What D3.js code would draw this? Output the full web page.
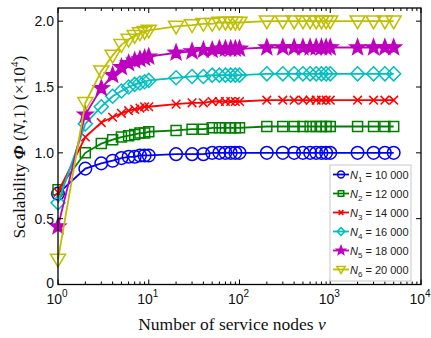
<!DOCTYPE html>
<html>
<head>
<meta charset="utf-8">
<script src="https://cdn.jsdelivr.net/npm/d3@7"></script>
<style>
  body { margin: 0; background: #fff; }
  svg { display: block; }
  .tick-lbl { font-family: "Liberation Sans", Arial, sans-serif; font-size: 14px; fill: #111; }
  .ax-title { font-family: "Liberation Serif", "Times New Roman", serif; font-size: 17.5px; fill: #111; }
  .leg-txt { font-family: "Liberation Sans", Arial, sans-serif; font-size: 11px; fill: #222; }
</style>
</head>
<body>
<div id="chart"></div>
<script>
// numero de nodos de servicio (eje x)
const nodes = [1, 2, 3, 4, 5, 6, 7, 8, 9, 10,
  20, 30, 40, 50, 60, 70, 80, 90, 100,
  200, 300, 400, 500, 600, 700, 800, 900, 1000,
  2000, 3000, 4000, 5000];

// valores (x10^4)
const phiN1 = [0.69, 0.88, 0.92, 0.94, 0.96, 0.97, 0.97, 0.98, 0.98, 0.98,
  0.99, 0.99, 0.99, 1.0, 1.0, 1.0, 1.0, 1.0, 1.0,
  1.0, 1.0, 1.0, 1.0, 1.0, 1.0, 1.0, 1.0, 1.0,
  1.0, 1.0, 1.0, 1.0];
const phiN2 = [0.72, 1.0, 1.07, 1.10, 1.12, 1.13, 1.14, 1.15, 1.15, 1.16,
  1.17, 1.18, 1.18, 1.19, 1.19, 1.19, 1.19, 1.19, 1.19,
  1.20, 1.20, 1.20, 1.20, 1.20, 1.20, 1.20, 1.20, 1.20,
  1.20, 1.20, 1.20, 1.20];
const phiN3 = [0.70, 1.12, 1.23, 1.27, 1.30, 1.32, 1.33, 1.34, 1.35, 1.35,
  1.37, 1.38, 1.38, 1.39, 1.39, 1.39, 1.39, 1.39, 1.39,
  1.40, 1.40, 1.40, 1.40, 1.40, 1.40, 1.40, 1.40, 1.40,
  1.40, 1.40, 1.40, 1.40];
const phiN4 = [0.62, 1.22, 1.35, 1.43, 1.47, 1.50, 1.52, 1.53, 1.54, 1.55,
  1.57, 1.58, 1.58, 1.59, 1.59, 1.59, 1.59, 1.59, 1.59,
  1.60, 1.60, 1.60, 1.60, 1.60, 1.60, 1.60, 1.60, 1.60,
  1.60, 1.60, 1.60, 1.60];
const phiN5 = [0.44, 1.29, 1.49, 1.59, 1.65, 1.68, 1.70, 1.71, 1.72, 1.73,
  1.76, 1.77, 1.78, 1.78, 1.79, 1.79, 1.79, 1.79, 1.79,
  1.80, 1.80, 1.80, 1.80, 1.80, 1.80, 1.80, 1.80, 1.80,
  1.80, 1.80, 1.80, 1.80];
const phiN6 = [0.19, 1.38, 1.62, 1.74, 1.82, 1.86, 1.89, 1.91, 1.92, 1.93,
  1.96, 1.97, 1.98, 1.98, 1.99, 1.99, 1.99, 1.99, 1.99,
  2.0, 2.0, 2.0, 2.0, 2.0, 2.0, 2.0, 2.0, 2.0,
  2.0, 2.0, 2.0, 2.0];

const seriesNames = ["1", "2", "3", "4", "5", "6"];
const seriesN = ["10 000", "12 000", "14 000", "16 000", "18 000", "20 000"];
const yTicks = [0, 0.5, 1.0, 1.5, 2.0];
const yTickLabels = ["0", "0.5", "1.0", "1.5", "2.0"];
const xTicks = [1, 10, 100, 1000, 10000];
const xTickExp = ["0", "1", "2", "3", "4"];

const colors = ["#0000ff", "#008000", "#ff0000", "#00bfbf", "#bf00bf", "#bfbf00"];
const markers = ["circle", "square", "x", "diamond", "star", "triangle"];
const allValues = [phiN1, phiN2, phiN3, phiN4, phiN5, phiN6];

const W = 431, H = 338;
const margin = {top: 8, right: 10, bottom: 53.5, left: 58};

const x = d3.scaleLog().domain([1, 10000]).range([margin.left, W - margin.right]);
const y = d3.scaleLinear().domain([0, 2.1]).range([H - margin.bottom, margin.top]);

const svg = d3.select("#chart").append("svg")
  .attr("width", W).attr("height", H);

// forma de cada marcador
function markerPath(type, s) {
  if (type === "circle") {
    return d3.symbol(d3.symbolCircle, Math.PI * s * s)();
  }
  if (type === "square") {
    return `M${-s},${-s}H${s}V${s}H${-s}Z`;
  }
  if (type === "diamond") {
    return `M0,${-s}L${s},0L0,${s}L${-s},0Z`;
  }
  if (type === "x") {
    return `M${-s},${-s}L${s},${s}M${-s},${s}L${s},${-s}`;
  }
  if (type === "triangle") {
    return `M${-s},${-s * 0.7}L${s},${-s * 0.7}L0,${s}Z`;
  }
  // estrella de 5 puntas
  let p = "";
  for (let k = 0; k < 10; k++) {
    const r = k % 2 === 0 ? s : s * 0.42;
    const a = -Math.PI / 2 + k * Math.PI / 5;
    p += (k === 0 ? "M" : "L") + (r * Math.cos(a)).toFixed(2) + "," + (r * Math.sin(a)).toFixed(2);
  }
  return p + "Z";
}
const markerSize = {circle: 6.3, square: 5, x: 4.3, diamond: 7, star: 8, triangle: 7.5};

const plot = svg.append("g");
const line = d3.line()
  .x(d => x(d.v))
  .y(d => y(d.phi));

allValues.forEach(function(vals, i) {
  const pts = nodes.map((v, j) => ({v: v, phi: vals[j]}));
  plot.append("path")
    .attr("d", line(pts))
    .attr("fill", "none")
    .attr("stroke", colors[i])
    .attr("stroke-width", 1.8);
  plot.selectAll(".m" + i)
    .data(pts)
    .enter().append("path")
    .attr("class", "m" + i)
    .attr("transform", d => `translate(${x(d.v)},${y(d.phi)})`)
    .attr("d", markerPath(markers[i], markerSize[markers[i]]))
    .attr("fill", markers[i] === "star" ? colors[i] : "none")
    .attr("stroke", colors[i])
    .attr("stroke-width", 1.5);
});

// marco de ejes
const x0 = x.range()[0], x1 = x.range()[1];
const y0 = y.range()[0], y1 = y.range()[1];
const axes = svg.append("g").attr("stroke", "#000");
axes.append("rect")
  .attr("x", x0).attr("y", y1)
  .attr("width", x1 - x0).attr("height", y0 - y1)
  .attr("fill", "none").attr("stroke-width", 1.3);

// ticks menores y mayores (log)
const minorTicks = [];
for (let e = 0; e < 4; e++) {
  for (let m = 2; m <= 9; m++) minorTicks.push(m * Math.pow(10, e));
}
minorTicks.forEach(function(t) {
  axes.append("line").attr("x1", x(t)).attr("x2", x(t)).attr("y1", y0).attr("y2", y0 - 3);
  axes.append("line").attr("x1", x(t)).attr("x2", x(t)).attr("y1", y1).attr("y2", y1 + 3);
});
xTicks.forEach(function(t) {
  axes.append("line").attr("x1", x(t)).attr("x2", x(t)).attr("y1", y0).attr("y2", y0 - 5);
  axes.append("line").attr("x1", x(t)).attr("x2", x(t)).attr("y1", y1).attr("y2", y1 + 5);
});
yTicks.forEach(function(t) {
  axes.append("line").attr("x1", x0).attr("x2", x0 + 5).attr("y1", y(t)).attr("y2", y(t));
  axes.append("line").attr("x1", x1).attr("x2", x1 - 5).attr("y1", y(t)).attr("y2", y(t));
});

// etiquetas de ticks
xTicks.forEach(function(t, i) {
  const txt = svg.append("text").attr("class", "tick-lbl")
    .attr("x", x(t) - 1).attr("y", y0 + 19)
    .attr("text-anchor", "middle");
  txt.append("tspan").text("10");
  txt.append("tspan").attr("dy", -7).style("font-size", "10px").text(xTickExp[i]);
});
yTicks.forEach(function(t, i) {
  svg.append("text").attr("class", "tick-lbl")
    .attr("x", x0 - 4).attr("y", y(t) + (t === 0 ? 3 : 5))
    .attr("text-anchor", "end")
    .text(yTickLabels[i]);
});

// titulos de ejes
const xt = svg.append("text").attr("class", "ax-title")
  .attr("x", 232).attr("y", 330).attr("text-anchor", "middle");
xt.append("tspan").text("Number of service nodes ");
xt.append("tspan").style("font-style", "italic").text("v");

const yt = svg.append("text").attr("class", "ax-title")
  .attr("transform", "translate(25,147) rotate(-90)")
  .attr("text-anchor", "middle");
yt.append("tspan").text("Scalability ");
yt.append("tspan").style("font-style", "italic").style("font-weight", "bold").text("Φ");
yt.append("tspan").text(" (");
yt.append("tspan").style("font-style", "italic").text("N");
yt.append("tspan").text(",1) (×10");
yt.append("tspan").attr("dy", -7).style("font-size", "11px").text("4");
yt.append("tspan").attr("dy", 7).text(")");

// leyenda
const leg = svg.append("g").attr("transform", "translate(330,165)");
leg.append("rect")
  .attr("width", 81).attr("height", 116)
  .attr("fill", "#fff").attr("stroke", "#c8c8c8").attr("stroke-width", 1);
seriesNames.forEach(function(name, i) {
  const cy = 9.5 + i * 19;
  leg.append("line")
    .attr("x1", 3).attr("x2", 19).attr("y1", cy).attr("y2", cy)
    .attr("stroke", colors[i]).attr("stroke-width", 1.8);
  const ms = markerSize[markers[i]] * 0.55;
  leg.append("path")
    .attr("transform", `translate(11,${cy})`)
    .attr("d", markerPath(markers[i], ms))
    .attr("fill", markers[i] === "star" ? colors[i] : "none")
    .attr("stroke", colors[i]).attr("stroke-width", 1.5);
  const t = leg.append("text").attr("class", "leg-txt")
    .attr("x", 20).attr("y", cy + 4);
  t.append("tspan").style("font-style", "italic").text("N");
  t.append("tspan").attr("dy", 3).style("font-size", "8px").text(name);
  t.append("tspan").attr("dy", -3).text(" = " + seriesN[i]);
});
</script>
</body>
</html>
